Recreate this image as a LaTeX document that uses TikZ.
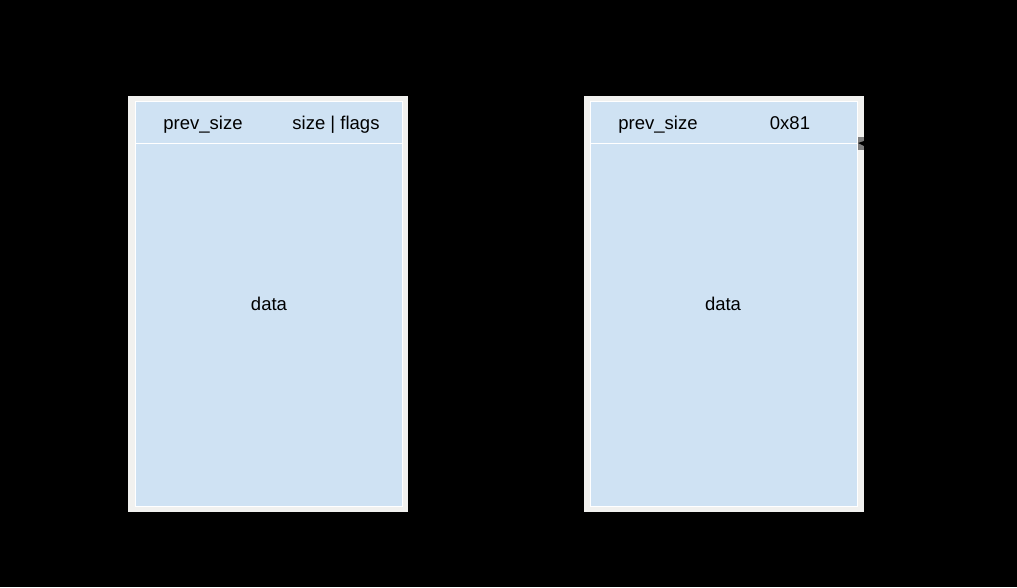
\documentclass[tikz,border=0pt]{standalone}
\usepackage{fontspec}
\setmainfont{Liberation Sans}
\definecolor{frameg}{HTML}{F1F1EF}
\definecolor{chunkblue}{HTML}{CFE2F3}
\definecolor{markg}{HTML}{7F7F7F}
\begin{document}
\begin{tikzpicture}[x=1pt,y=-1pt,
  frame/.style={fill=frameg,draw=none},
  inner/.style={fill=chunkblue,draw=white,line width=1pt},
  sep/.style={draw=white,line width=1.5pt},
  lbl/.style={font=\fontsize{18.5}{20}\selectfont,text=black,inner sep=0pt,anchor=base}]
\useasboundingbox[fill=black] (0,0) rectangle (1017,587);
% left chunk
\fill[frameg] (128,96) rectangle (408,512);
\draw[inner] (135,101.5) rectangle (402.5,506);
\coordinate (l1) at (135,143.5);
\coordinate (l2) at (402.5,143.5);
\draw[sep] (l1) -- (l2);
\node[lbl] (lprev) at (203,129) {prev\_size};
\node[lbl] (lsize) at (336,129) {size | flags};
\node[lbl] (ldata) at (269,310) {data};
% right chunk
\fill[frameg] (584,96) rectangle (864,512);
\draw[inner] (590,101.5) rectangle (857.5,506);
\coordinate (r1) at (590,143.5);
\coordinate (r2) at (857.5,143.5);
\draw[sep] (r1) -- (r2);
\node[lbl] (rprev) at (658,129) {prev\_size};
\node[lbl] (rsize) at (790,129) {0x81};
\node[lbl] (rdata) at (723,310) {data};
% small mark at right edge
\fill[markg] (858,137) rectangle (864,150);
\fill[black] (858,143) -- (864,141) -- (864,146) -- cycle;
\end{tikzpicture}
\end{document}
